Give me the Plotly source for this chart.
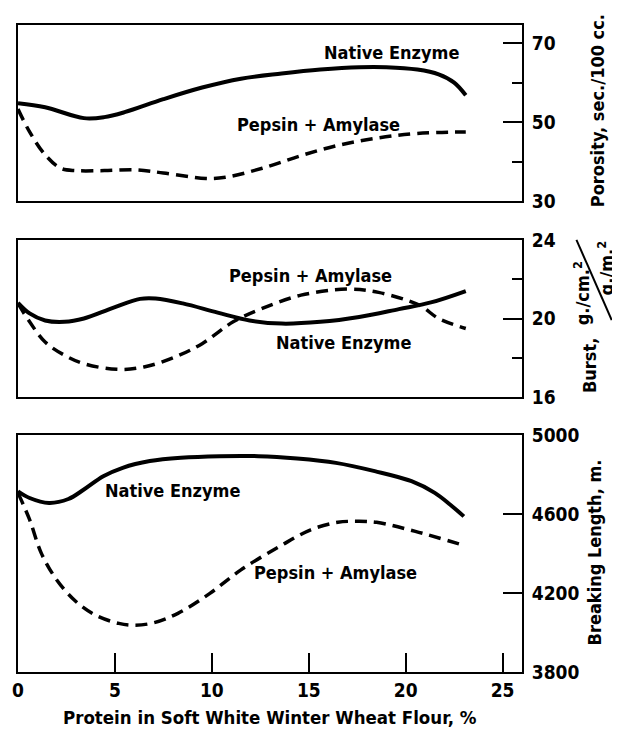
import plotly.graph_objects as go

# ---------------- data ----------------
# Panel 1: Porosity, sec./100 cc.
por_native_x = [0, 1.4, 3.4, 4.45, 5.5, 7.5, 9.5, 11.5, 13.6, 15.6, 17.6, 19.0, 20.6, 21.7, 22.5, 23.1]
por_native_y = [54.8, 53.75, 51.0, 51.25, 52.5, 55.8, 58.75, 61.0, 62.3, 63.3, 63.9, 63.9, 63.3, 62.1, 60.0, 56.8]
por_pepsin_x = [0, 0.6, 1.4, 2.2, 3.0, 4.45, 6.1, 7.5, 9.7, 10.7, 12.6, 14.6, 16.6, 18.6, 20.6, 23.1]
por_pepsin_y = [53.3, 47.5, 41.7, 38.3, 37.7, 37.7, 37.9, 37.1, 35.7, 36.0, 38.3, 41.5, 44.2, 46.0, 47.1, 47.5]

# Panel 2: Burst
bur_native_x = [0, 0.6, 1.4, 2.4, 3.4, 4.9, 6.3, 7.1, 8.5, 10.3, 11.95, 13.6, 15.6, 17.6, 19.65, 21.3, 23.1]
bur_native_y = [20.8, 20.26, 19.9, 19.83, 20.0, 20.54, 21.0, 21.02, 20.77, 20.3, 19.9, 19.74, 19.83, 20.08, 20.48, 20.82, 21.4]
bur_pepsin_x = [0, 0.6, 1.4, 2.4, 3.4, 5.1, 6.5, 8.1, 9.5, 11.1, 12.6, 14.6, 17.0, 18.6, 20.7, 21.7, 23.1]
bur_pepsin_y = [20.77, 19.83, 18.8, 18.13, 17.7, 17.41, 17.53, 18.04, 18.72, 19.83, 20.51, 21.19, 21.5, 21.33, 20.68, 20.0, 19.49]

# Panel 3: Breaking Length, m.
brk_native_x = [0, 0.6, 1.6, 2.6, 3.4, 4.4, 5.4, 6.8, 8.4, 10.4, 12.4, 14.4, 16.4, 18.4, 20.3, 21.5, 22.3, 23.0]
brk_native_y = [4715, 4681, 4656, 4676, 4724, 4791, 4834, 4868, 4885, 4893, 4893, 4881, 4859, 4817, 4766, 4707, 4647, 4588]
brk_pepsin_x = [0, 0.6, 1.2, 2.0, 3.0, 4.0, 5.2, 6.0, 7.0, 8.25, 9.9, 11.5, 13.5, 15.1, 16.5, 17.5, 18.5, 20.5, 22.9]
brk_pepsin_y = [4707, 4571, 4402, 4266, 4156, 4088, 4046, 4037, 4049, 4097, 4198, 4317, 4436, 4520, 4558, 4563, 4558, 4512, 4444]

x_ticks = [0, 5, 10, 15, 20, 25]
por_ticks = [30, 50, 70]
bur_ticks = [16, 20, 24]
brk_ticks = [3800, 4200, 4600, 5000]

FONT = "DejaVu Sans Condensed"
BLACK = "black"

fig = go.Figure()

def add_pair(nx, ny, px, py, xa, ya):
    fig.add_trace(go.Scatter(x=nx, y=ny, xaxis=xa, yaxis=ya, mode="lines",
                             line=dict(color=BLACK, width=4, shape="spline", smoothing=1.0),
                             showlegend=False, hoverinfo="skip"))
    fig.add_trace(go.Scatter(x=px, y=py, xaxis=xa, yaxis=ya, mode="lines",
                             line=dict(color=BLACK, width=3.5, dash="12px,7px", shape="spline", smoothing=1.0),
                             showlegend=False, hoverinfo="skip"))

add_pair(por_native_x, por_native_y, por_pepsin_x, por_pepsin_y, "x", "y")
add_pair(bur_native_x, bur_native_y, bur_pepsin_x, bur_pepsin_y, "x2", "y2")
add_pair(brk_native_x, brk_native_y, brk_pepsin_x, brk_pepsin_y, "x3", "y3")

tickfont = dict(family=FONT, size=19, color=BLACK, weight=700)

def xaxis_common(anchor, show):
    d = dict(domain=[0, 1], range=[0, 26], anchor=anchor, showgrid=False, zeroline=False,
             showline=True, linecolor=BLACK, linewidth=2, mirror=True)
    if show:
        d.update(tickvals=x_ticks, ticks="inside", ticklen=19, tickwidth=2, tickcolor=BLACK,
                 tickfont=tickfont, showticklabels=True)
    else:
        d.update(showticklabels=False, ticks="")
    return d

def yaxis_common(anchor, domain, rng, tvals, minor_dtick):
    d = dict(domain=domain, range=rng, anchor=anchor, side="right", showgrid=False, zeroline=False,
             showline=True, linecolor=BLACK, linewidth=2, mirror=True,
             tickvals=tvals, ticks="inside", ticklen=19, tickwidth=2, tickcolor=BLACK,
             tickfont=tickfont, ticklabelstandoff=4)
    if minor_dtick:
        d["minor"] = dict(dtick=minor_dtick, tick0=tvals[0], ticks="inside", ticklen=10,
                          tickwidth=2, tickcolor=BLACK, showgrid=False)
    return d

# page body has an 8px margin: figure is sized/offset to compensate
fig.update_layout(
    width=612, height=723,
    margin=dict(l=4, r=98, t=17, b=59),
    paper_bgcolor="white", plot_bgcolor="white",
    font=dict(family=FONT, color=BLACK, weight=700),
    xaxis=xaxis_common("y", False),
    yaxis=yaxis_common("x", [0.728, 1.0], [30, 74.6], por_ticks, 10),
    xaxis2=xaxis_common("y2", False),
    yaxis2=yaxis_common("x2", [0.425, 0.6677], [16, 24], bur_ticks, 2),
    xaxis3=xaxis_common("y3", True),
    yaxis3=yaxis_common("x3", [0.0, 0.3663], [3800, 5000], brk_ticks, None),
)

lab = dict(family=FONT, size=18, color=BLACK, weight=700)
ann = [
    dict(x=19.25, y=67.6, xref="x", yref="y", text="Native Enzyme"),
    dict(x=15.5, y=49.3, xref="x", yref="y", text="Pepsin + Amylase"),
    dict(x=15.1, y=22.2, xref="x2", yref="y2", text="Pepsin + Amylase"),
    dict(x=16.8, y=18.8, xref="x2", yref="y2", text="Native Enzyme"),
    dict(x=7.95, y=4720, xref="x3", yref="y3", text="Native Enzyme"),
    dict(x=16.4, y=4303, xref="x3", yref="y3", text="Pepsin + Amylase"),
]
for a in ann:
    fig.add_annotation(**a, showarrow=False, font=lab, xanchor="center", yanchor="middle")

title_font = dict(family=FONT, size=18, color=BLACK, weight=700)
side = [
    dict(x=1.149, y=0.867, text="Porosity, sec./100 cc."),
    dict(x=1.135, y=0.473, text="Burst,"),
    dict(x=1.118, y=0.586, text="g./cm.<sup>2</sup>"),
    dict(x=1.167, y=0.624, text="g./m.<sup>2</sup>"),
    dict(x=1.143, y=0.185, text="Breaking Length, m."),
]
for a in side:
    fig.add_annotation(**a, xref="paper", yref="paper", showarrow=False, textangle=-90,
                       font=title_font, xanchor="center", yanchor="middle")

fig.add_shape(type="line", xref="paper", yref="paper", x0=1.108, y0=0.668, x1=1.178, y1=0.544,
              line=dict(color=BLACK, width=2))

fig.add_annotation(x=0.5, y=-0.071, xref="paper", yref="paper", showarrow=False,
                   text="Protein in Soft White Winter Wheat Flour, %",
                   font=dict(family=FONT, size=18.5, color=BLACK, weight=700),
                   xanchor="center", yanchor="middle")

fig.write_html("out.html")
